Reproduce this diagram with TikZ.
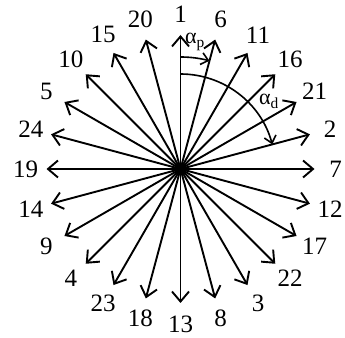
\documentclass[tikz,border=0pt]{standalone}
\usepackage{fontspec}
\setmainfont{Liberation Serif}
\usetikzlibrary{arrows.meta}
\begin{document}
\begin{tikzpicture}[x=1pt, y=1pt,
  ray/.style={line width=1.9pt, -{Straight Barb[length=10pt, width=17pt]}},
  num/.style={font=\fontsize{25}{28}\selectfont, inner sep=0pt},
  ang/.style={line width=1.6pt, -{Straight Barb[length=7pt, width=12pt]}},
  greek/.style={font=\fontsize{22}{25}\selectfont, inner sep=0pt},
]
  \useasboundingbox (0,0) rectangle (345,337);
  \coordinate (O) at (180.5,168);

  % rays and their numbers
  \foreach \k in {0,...,23} {
    \pgfmathtruncatemacro{\lab}{mod(5*\k,24)+1}
    \coordinate (t\k) at ([shift={({90-15*\k}:134)}]O);
    \node[num] (l\k) at ([shift={({90-15*\k}:155)}]O) {\lab};
    \draw[ray] (O) -- (t\k);
  }

  % angle marks
  \coordinate (ap) at ([shift={(90:112)}]O);
  \coordinate (ad) at ([shift={(90:95)}]O);
  \draw[ang] (ap) arc[start angle=90, end angle=75, radius=112];
  \draw[ang] (ad) arc[start angle=90, end angle=15, radius=95];
  \node[greek] (alp) at (195,295) {α\textsubscript{p}};
  \node[greek] (ald) at (269,235.5) {α\textsubscript{d}};
\end{tikzpicture}
\end{document}
